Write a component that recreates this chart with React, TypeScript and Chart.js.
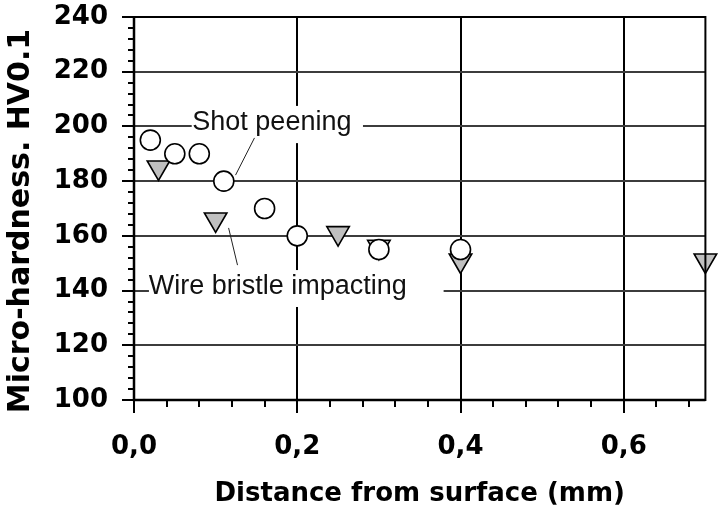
import React, { useEffect, useRef } from 'react';
import { Chart, registerables } from 'chart.js';

Chart.register(...registerables);

// ---- data ----
const shotPeeningX = [0.02, 0.05, 0.08, 0.11, 0.16, 0.2, 0.3, 0.4];
const shotPeeningY = [195, 190, 190, 180, 170, 160, 155, 155];
const wireBristleX = [0.03, 0.1, 0.25, 0.3, 0.4, 0.7];
const wireBristleY = [185, 166, 161, 156, 151, 151];

// ---- ticks ----
const xMajorTicks = [0, 0.2, 0.4, 0.6];
const xMinorTicks = [0.04, 0.08, 0.12, 0.16, 0.24, 0.28, 0.32, 0.36, 0.44, 0.48, 0.52, 0.56, 0.64, 0.68];
const yMajorTicks = [100, 120, 140, 160, 180, 200, 220, 240];
const yMinorTicks = [
  104, 108, 112, 116, 124, 128, 132, 136, 144, 148, 152, 156, 164, 168,
  172, 176, 184, 188, 192, 196, 204, 208, 212, 216, 224, 228, 232, 236,
];

// ---- labels ----
const xTitle = 'Distance from surface (mm)';
const yTitle = 'Micro-hardness. HV0.1';
const seriesNames = ['Shot peening', 'Wire bristle impacting'];

// annotation callouts (data coordinates)
const callouts = [
  { text: 'Shot peening', x: 0.1689, y: 201.4, box: [0.0707, 207.5, 0.2805, 193.9], leader: [0.1476, 195.8, 0.1244, 182.2] },
  { text: 'Wire bristle impacting', x: 0.1762, y: 141.3, box: [0.0183, 147.5, 0.3793, 134.0], leader: [0.1159, 162.9, 0.1268, 149.3] },
];

const boldFont = (size: number) => ({ family: '"DejaVu Sans", sans-serif', weight: 'bold' as const, size });

const overlayPlugin = {
  id: 'overlay',
  beforeDatasetsDraw(chart: any) {
    const { ctx, scales } = chart;
    const xs = scales.x;
    const ys = scales.y;
    const ca = chart.chartArea;
    ctx.save();
    // callouts
    for (const c of callouts) {
      const l = xs.getPixelForValue(c.box[0]);
      const t = ys.getPixelForValue(c.box[1]);
      const r = xs.getPixelForValue(c.box[2]);
      const b = ys.getPixelForValue(c.box[3]);
      ctx.fillStyle = '#ffffff';
      ctx.fillRect(l, t, r - l, b - t);
      ctx.fillStyle = '#111111';
      ctx.font = '27px "Liberation Sans", Arial, sans-serif';
      ctx.textAlign = 'center';
      ctx.textBaseline = 'middle';
      ctx.fillText(c.text, xs.getPixelForValue(c.x), ys.getPixelForValue(c.y));
      ctx.strokeStyle = '#222222';
      ctx.lineWidth = 1;
      ctx.beginPath();
      ctx.moveTo(xs.getPixelForValue(c.leader[0]), ys.getPixelForValue(c.leader[1]));
      ctx.lineTo(xs.getPixelForValue(c.leader[2]), ys.getPixelForValue(c.leader[3]));
      ctx.stroke();
    }
    // tick marks
    ctx.strokeStyle = '#000000';
    ctx.lineWidth = 2;
    ctx.beginPath();
    for (const v of yMajorTicks) {
      const p = Math.round(ys.getPixelForValue(v));
      ctx.moveTo(ca.left - 12, p);
      ctx.lineTo(ca.left, p);
    }
    for (const v of yMinorTicks) {
      const p = Math.round(ys.getPixelForValue(v));
      ctx.moveTo(ca.left - 6, p);
      ctx.lineTo(ca.left, p);
    }
    for (const v of xMajorTicks) {
      const p = Math.round(xs.getPixelForValue(v));
      ctx.moveTo(p, ca.bottom);
      ctx.lineTo(p, ca.bottom + 13);
    }
    for (const v of xMinorTicks) {
      const p = Math.round(xs.getPixelForValue(v));
      ctx.moveTo(p, ca.bottom);
      ctx.lineTo(p, ca.bottom + 7);
    }
    ctx.stroke();
    ctx.restore();
  },
  afterDatasetsDraw(chart: any) {
    const { ctx } = chart;
    const ca = chart.chartArea;
    ctx.save();
    ctx.strokeStyle = '#000000';
    ctx.lineWidth = 2;
    ctx.strokeRect(ca.left, ca.top, ca.right - ca.left, ca.bottom - ca.top);
    ctx.lineWidth = 2.5;
    ctx.beginPath();
    ctx.moveTo(ca.left, ca.top);
    ctx.lineTo(ca.left, ca.bottom);
    ctx.lineTo(ca.right, ca.bottom);
    ctx.stroke();
    // y axis title (rotated)
    ctx.translate(21, 221);
    ctx.rotate(-Math.PI / 2);
    ctx.fillStyle = '#000000';
    ctx.font = 'bold 30px "DejaVu Sans", sans-serif';
    ctx.textAlign = 'center';
    ctx.textBaseline = 'middle';
    ctx.fillText(yTitle, 0, 0);
    ctx.restore();
  },
};

export default function App() {
  const canvasRef = useRef<HTMLCanvasElement>(null);

  useEffect(() => {
    const canvas = canvasRef.current;
    if (!canvas) return;
    const chart = new Chart(canvas, {
      type: 'scatter',
      data: {
        datasets: [
          {
            label: seriesNames[0],
            data: shotPeeningX.map((x, i) => ({ x, y: shotPeeningY[i] })),
            pointStyle: 'circle',
            pointRadius: 10,
            pointBackgroundColor: '#ffffff',
            pointBorderColor: '#000000',
            pointBorderWidth: 1.6,
            showLine: false,
            clip: false,
            order: 0,
          },
          {
            label: seriesNames[1],
            data: wireBristleX.map((x, i) => ({ x, y: wireBristleY[i] })),
            pointStyle: 'triangle',
            pointRotation: 180,
            pointRadius: 13,
            pointBackgroundColor: '#c0c0c0',
            pointBorderColor: '#000000',
            pointBorderWidth: 1.6,
            showLine: false,
            clip: false,
            order: 1,
          },
        ],
      } as any,
      options: {
        animation: false,
        responsive: false,
        devicePixelRatio: 1,
        layout: { padding: { top: 17, right: 12, bottom: 0, left: 0 } },
        plugins: {
          legend: { display: false },
          tooltip: { enabled: false },
        },
        scales: {
          x: {
            type: 'linear',
            min: 0,
            max: 0.7,
            afterBuildTicks: (s: any) => {
              s.ticks = xMajorTicks.map((v) => ({ value: v }));
            },
            afterFit: (s: any) => {
              s.height = 112;
              s.paddingLeft = 0;
              s.paddingRight = 0;
            },
            ticks: {
              callback: (v: any) => Number(v).toFixed(1).replace('.', ','),
              font: boldFont(26),
              color: '#000000',
              padding: 32,
              autoSkip: false,
              maxRotation: 0,
            },
            grid: {
              color: (ctx: any) => (ctx.tick && ctx.tick.value > 0 ? '#000000' : 'rgba(0,0,0,0)'),
              lineWidth: 2,
              drawTicks: false,
            },
            border: { display: false },
            title: {
              display: true,
              text: xTitle,
              font: boldFont(26),
              color: '#000000',
              padding: { top: 0, bottom: 2 },
            },
          },
          y: {
            type: 'linear',
            min: 100,
            max: 240,
            afterBuildTicks: (s: any) => {
              s.ticks = yMajorTicks.map((v) => ({ value: v }));
            },
            afterFit: (s: any) => {
              s.width = 134;
              s.paddingTop = 0;
              s.paddingBottom = 0;
            },
            ticks: {
              font: boldFont(26),
              color: '#000000',
              padding: 26,
            },
            grid: {
              color: (ctx: any) =>
                ctx.tick && ctx.tick.value > 100 && ctx.tick.value < 240 ? '#3c3c3c' : 'rgba(0,0,0,0)',
              lineWidth: 2,
              drawTicks: false,
            },
            border: { display: false },
            title: { display: false },
          },
        },
      } as any,
      plugins: [overlayPlugin],
    });
    return () => chart.destroy();
  }, []);

  return (
    <div style={{ position: 'absolute', left: 0, top: 0, width: 720, height: 512, background: '#ffffff' }}>
      <canvas ref={canvasRef} width={720} height={512} style={{ display: 'block', width: 720, height: 512 }} />
    </div>
  );
}
